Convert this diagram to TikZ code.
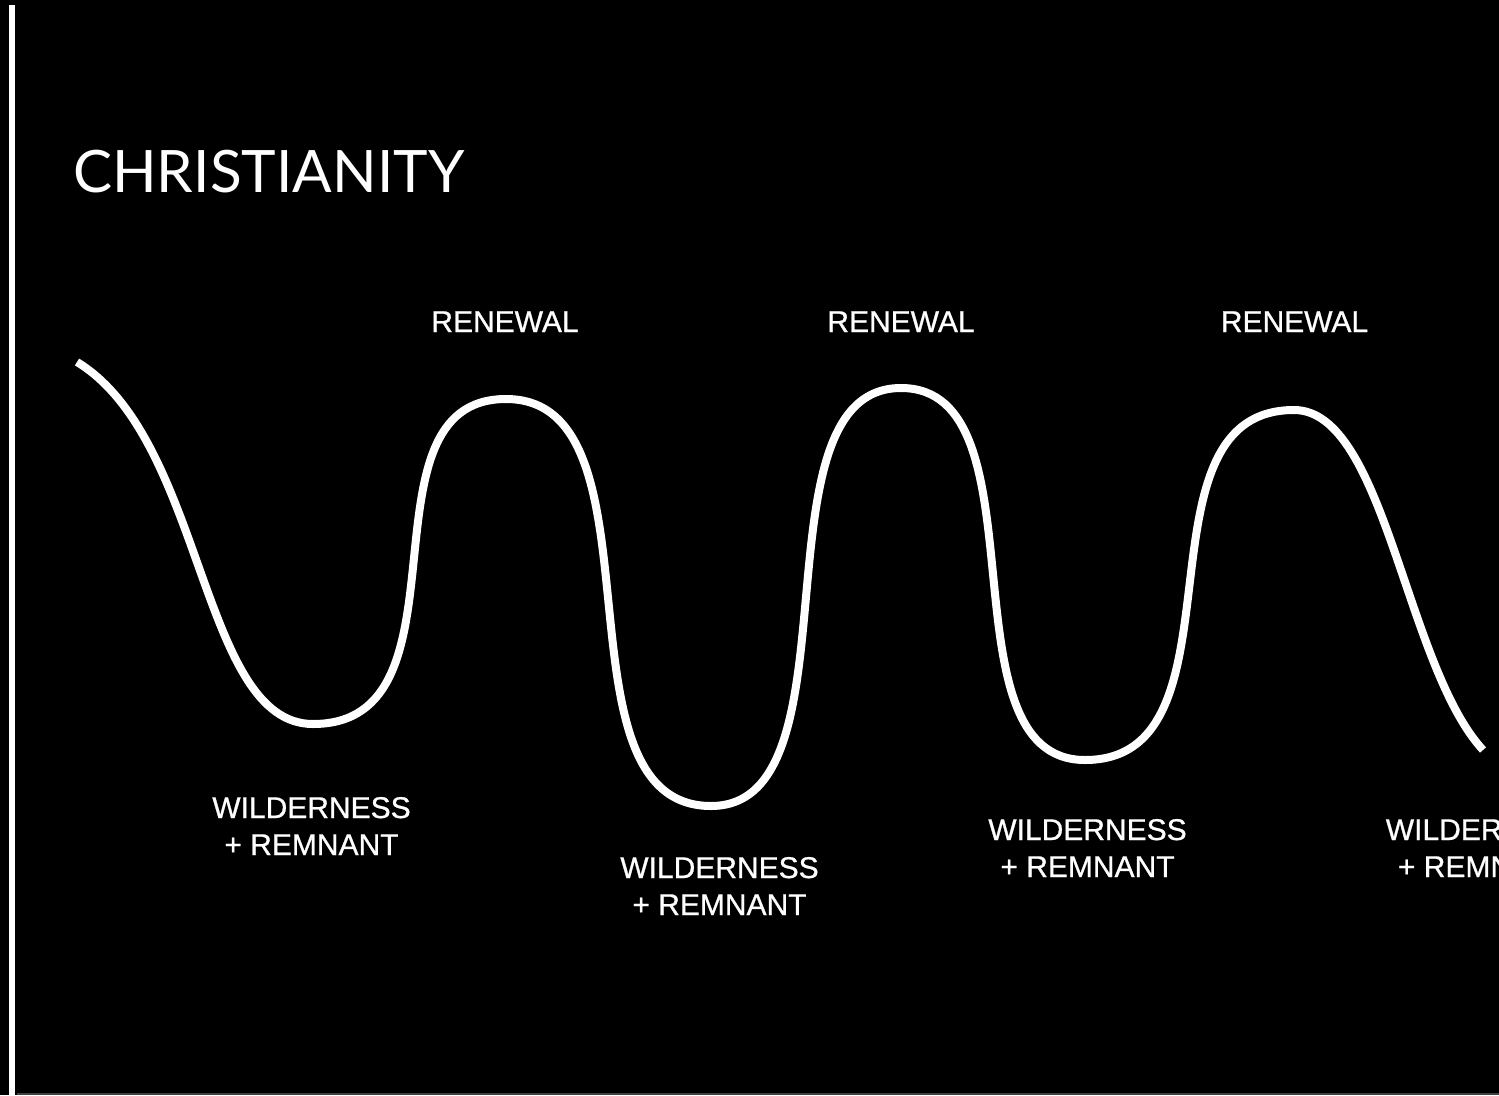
\documentclass[tikz,border=0pt]{standalone}
\usepackage{fontspec}
\setmainfont{Liberation Sans}
\newfontfamily\titlefont{Lato}
\newfontfamily\lblfont{Liberation Sans}[FakeBold=0.8]
\begin{document}
\begin{tikzpicture}[x=1pt,y=-1pt,
  lbl/.style={text=white,inner sep=0pt,align=center,anchor=base,
    font=\lblfont\fontsize{30}{37}\selectfont},
  wave/.style={draw=white,line width=8pt}]
\fill[black] (0,0) rectangle (1499,1095);
\useasboundingbox (0,0) rectangle (1499,1095);
\clip (0,0) rectangle (1499,1095);
% frame lines
\coordinate (vtop) at (12,5);
\coordinate (vbot) at (12,1095);
\draw[white,line width=6pt] (vtop) -- (vbot);
\coordinate (bl) at (17,1093.5);
\coordinate (br) at (1499,1093.5);
\draw[black!75!white,line width=2pt] (bl) -- (br);
% title
\node[text=white,inner sep=0pt,anchor=base west,font=\titlefont\fontsize{58.5}{66}\selectfont] (title) at (73,192) {CHRISTIANITY};
% wave key points
\coordinate (s) at (77,362);
\coordinate (v1) at (313,724);
\coordinate (p1) at (506,399);
\coordinate (v2) at (711,806);
\coordinate (p2) at (901,388);
\coordinate (v3) at (1085,760);
\coordinate (p3) at (1294,410);
\coordinate (e) at (1483,750);
\draw[wave] (s) .. controls (205,440) and (200,724) .. (v1)
  .. controls (478,724) and (352,399) .. (p1)
  .. controls (670,399) and (547,806) .. (v2)
  .. controls (863,806) and (749,388) .. (p2)
  .. controls (1048,388) and (938,760) .. (v3)
  .. controls (1252,760) and (1127,410) .. (p3)
  .. controls (1385,410) and (1405,665) .. (e);
% labels
\node[lbl] (r1) at (505,332) {RENEWAL};
\node[lbl] (r2) at (901,332) {RENEWAL};
\node[lbl] (r3) at (1294.5,332) {RENEWAL};
\node[lbl] (w1) at (311.5,855) {WILDERNESS\\+ REMNANT};
\node[lbl] (w2) at (719.5,915) {WILDERNESS\\+ REMNANT};
\node[lbl] (w3) at (1087.5,877) {WILDERNESS\\+ REMNANT};
\node[lbl] (w4) at (1485,877) {WILDERNESS\\+ REMNANT};
\end{tikzpicture}
\end{document}
